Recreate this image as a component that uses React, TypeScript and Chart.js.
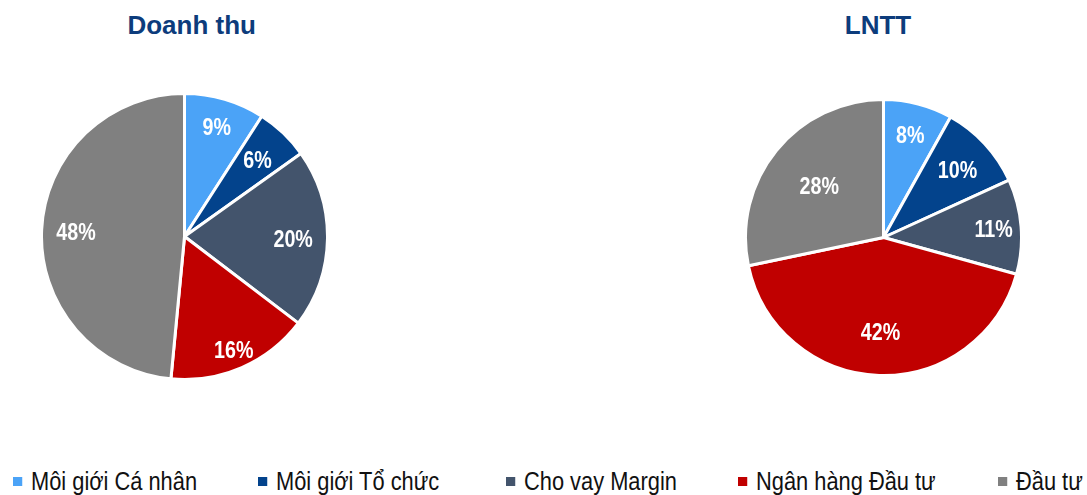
import React, { useEffect, useRef } from "react";
import { Chart, registerables } from "chart.js";

Chart.register(...registerables);

const categories = ["Môi giới Cá nhân", "Môi giới Tổ chức", "Cho vay Margin", "Ngân hàng Đầu tư", "Đầu tư"];
const revenueShares = [9, 6, 20, 16, 48];
const profitShares = [8, 10, 11, 42, 28];
const chartTitles = ["Doanh thu", "LNTT"];
const sliceColors = ["#4BA3F7", "#03438C", "#43546C", "#C00000", "#808080"];

// label placement (fraction of the radius), style only
const revenueLabelRadius = [0.8, 0.74, 0.76, 0.86, 0.76];
const profitLabelRadius = [0.77, 0.73, 0.8, 0.68, 0.6];

// legend layout (left edge of each legend marker), style only
const legendLefts = [13, 258, 506, 738, 998];

const pieLabels = {
  id: "pieLabels",
  afterDatasetsDraw(chart: any) {
    const ctx = chart.ctx;
    const ds = chart.data.datasets[0];
    const radii: number[] = ds.labelRadius || [];
    const meta = chart.getDatasetMeta(0);
    ctx.save();
    ctx.font = "bold 24px 'Liberation Sans', Arial, sans-serif";
    ctx.fillStyle = "#ffffff";
    ctx.textAlign = "center";
    ctx.textBaseline = "alphabetic";
    meta.data.forEach((arc: any, i: number) => {
      const p = arc.getProps(["x", "y", "startAngle", "endAngle", "outerRadius"], true);
      const a = (p.startAngle + p.endAngle) / 2;
      const r = p.outerRadius * (radii[i] ?? 0.75);
      const cx = p.x + Math.cos(a) * r;
      const cy = p.y + Math.sin(a) * r;
      ctx.save();
      ctx.translate(cx, cy + 8.5);
      ctx.scale(0.82, 1);
      ctx.fillText(`${ds.data[i]}%`, 0, 0);
      ctx.restore();
    });
    ctx.restore();
  },
};

function Pie({
  values,
  labelRadius,
  box,
}: {
  values: number[];
  labelRadius: number[];
  box: { left: number; top: number; size: number };
}) {
  const ref = useRef<HTMLCanvasElement | null>(null);
  useEffect(() => {
    if (!ref.current) return;
    const chart = new Chart(ref.current, {
      type: "pie",
      data: {
        labels: categories,
        datasets: [
          {
            data: values,
            backgroundColor: sliceColors,
            borderColor: "#ffffff",
            borderWidth: 3,
            hoverBorderWidth: 3,
            hoverOffset: 0,
            labelRadius,
          } as any,
        ],
      },
      options: {
        animation: false,
        responsive: true,
        maintainAspectRatio: false,
        events: [],
        plugins: {
          legend: { display: false },
          tooltip: { enabled: false },
          title: { display: false },
        },
      },
      plugins: [pieLabels],
    });
    return () => chart.destroy();
  }, [values, labelRadius]);
  return (
    <div style={{ position: "absolute", left: box.left, top: box.top, width: box.size, height: box.size }}>
      <canvas ref={ref} />
    </div>
  );
}

const titleStyle: React.CSSProperties = {
  position: "absolute",
  top: 10,
  width: 300,
  textAlign: "center",
  font: "bold 26px/30px 'Liberation Sans', Arial, sans-serif",
  color: "#0D3C7C",
  whiteSpace: "nowrap",
};

const legendScale = 0.84;

export default function App() {
  return (
    <div
      style={{
        position: "absolute",
        left: 0,
        top: 0,
        width: 1087,
        height: 495,
        overflow: "hidden",
        background: "#ffffff",
      }}
    >
      <div style={{ ...titleStyle, left: 191.7 - 150 }}>{chartTitles[0]}</div>
      <div style={{ ...titleStyle, left: 878 - 150 }}>{chartTitles[1]}</div>
      <Pie values={revenueShares} labelRadius={revenueLabelRadius} box={{ left: 40, top: 92, size: 289 }} />
      <Pie values={profitShares} labelRadius={profitLabelRadius} box={{ left: 744, top: 98, size: 279 }} />
      {categories.map((c, i) => (
        <div
          key={c}
          style={{
            position: "absolute",
            left: legendLefts[i],
            top: 466,
            display: "flex",
            alignItems: "center",
            whiteSpace: "nowrap",
            font: "26px/30px 'Liberation Sans', Arial, sans-serif",
            color: "#111111",
            transform: `scaleX(${legendScale})`,
            transformOrigin: "0 0",
          }}
        >
          <span
            style={{
              display: "inline-block",
              width: 9 / legendScale,
              height: 9,
              background: sliceColors[i],
              marginRight: 9 / legendScale,
            }}
          />
          <span>{c}</span>
        </div>
      ))}
    </div>
  );
}
